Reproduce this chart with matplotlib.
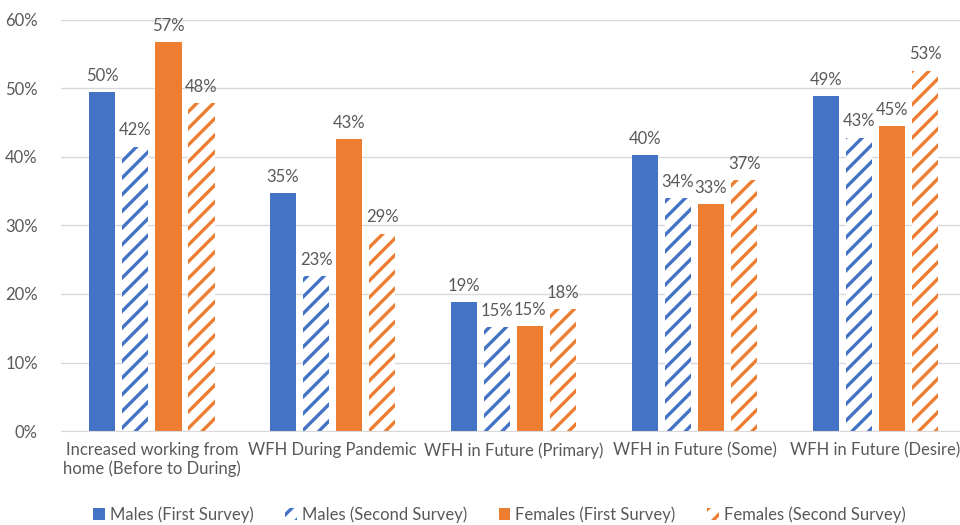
import matplotlib
matplotlib.use("Agg")
import matplotlib.pyplot as plt
import numpy as np
from matplotlib.ticker import PercentFormatter

plt.rcParams['font.family'] = ['Lato', 'DejaVu Sans']
plt.rcParams['hatch.linewidth'] = 2.4

categories = ["Increased working from\nhome (Before to During)", "WFH During Pandemic",
              "WFH in Future (Primary)", "WFH in Future (Some)", "WFH in Future (Desire)"]
series_names = ["Males (First Survey)", "Males (Second Survey)",
                "Females (First Survey)", "Females (Second Survey)"]
males_first = [49.5, 34.7, 18.8, 40.3, 48.9]
males_second = [41.5, 22.6, 15.2, 34.0, 42.8]
females_first = [56.8, 42.6, 15.3, 33.1, 44.5]
females_second = [47.9, 28.8, 17.8, 36.6, 52.6]
labels_males_first = [50, 35, 19, 40, 49]
labels_males_second = [42, 23, 15, 34, 43]
labels_females_first = [57, 43, 15, 33, 45]
labels_females_second = [48, 29, 18, 37, 53]

blue = "#4472C4"
orange = "#ED7D31"
text_color = "#595959"

fig = plt.figure(figsize=(9.6, 5.25), dpi=100)
ax = fig.add_axes([0.064, 0.179, 0.942, 0.783])

x = np.arange(len(categories))
w = 0.145
step = 0.183
data = [males_first, males_second, females_first, females_second]
labs = [labels_males_first, labels_males_second, labels_females_first, labels_females_second]
colors = [blue, blue, orange, orange]
hatched = [False, True, False, True]

handles = []
for i in range(4):
    pos = x + (i - 1.5) * step
    if hatched[i]:
        b = ax.bar(pos, data[i], w, facecolor="white", edgecolor=colors[i],
                   hatch="//", linewidth=0, label=series_names[i], zorder=3)
    else:
        b = ax.bar(pos, data[i], w, color=colors[i], linewidth=0,
                   label=series_names[i], zorder=3)
    handles.append(b)
    for p, v, l in zip(pos, data[i], labs[i]):
        ax.annotate(f"{l}%", (p, v), xytext=(0, 6), textcoords="offset points",
                    ha="center", va="bottom", fontsize=12, color=text_color)

ax.set_ylim(0, 60)
ax.set_xlim(-0.5, len(categories) - 0.5)
ax.set_yticks(np.arange(0, 61, 10))
ax.yaxis.set_major_formatter(PercentFormatter(decimals=0))
ax.set_xticks(x)
ax.set_xticklabels(categories, fontsize=12, color=text_color)
ax.tick_params(axis='y', labelsize=12, labelcolor=text_color, length=0, pad=17)
ax.tick_params(axis='x', length=0, pad=8)
ax.grid(axis='y', color="#D9D9D9", linewidth=1, zorder=0)
for s in ["top", "right", "left"]:
    ax.spines[s].set_visible(False)
ax.spines["bottom"].set_color("#D9D9D9")
ax.spines["bottom"].set_zorder(4)

leg = fig.legend(handles=handles, labels=series_names, loc="lower center",
                 bbox_to_anchor=(0.52, -0.025), ncol=4, frameon=False, fontsize=12,
                 handlelength=0.7, handleheight=0.7, columnspacing=1.9, handletextpad=0.3)
for t in leg.get_texts():
    t.set_color(text_color)

fig.savefig("out.png", dpi=100)
